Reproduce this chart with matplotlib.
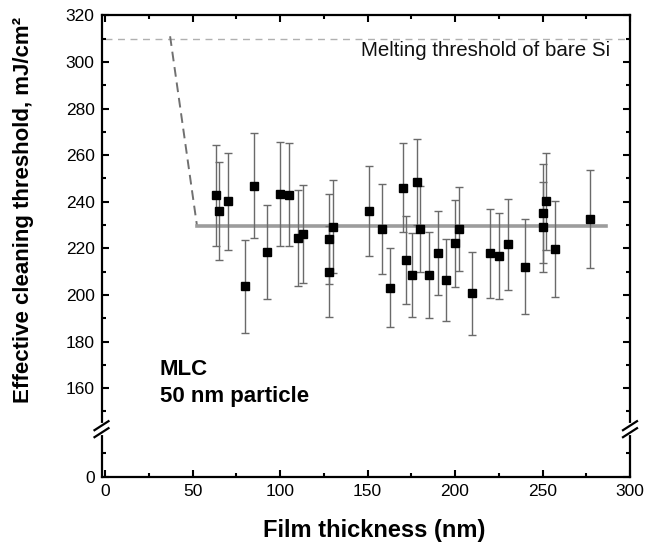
import numpy as np
import matplotlib
matplotlib.use("Agg")
import matplotlib.pyplot as plt
from matplotlib.ticker import FixedLocator, NullFormatter
import matplotlib.transforms as mtrans

plt.rcParams['font.family'] = ['Liberation Sans', 'DejaVu Sans']

# ---- data ----
thickness = [63.5, 65.4, 70.2, 80.0, 85.4, 92.5, 100.2, 105.2, 110.2, 113.4,
             128.1, 128.1, 130.2, 151.1, 158.0, 163.0, 170.2, 172.1, 175.4, 178.0,
             179.9, 185.2, 190.0, 195.0, 199.9, 202.2, 209.8, 219.8, 225.1, 230.0,
             240.0, 250.0, 250.0, 252.1, 256.9, 276.9]
threshold = [242.7, 236.2, 240.1, 203.7, 246.8, 218.4, 243.4, 243.1, 224.5, 226.3,
             224.0, 210.0, 229.3, 236.0, 228.3, 203.1, 246.1, 215.1, 208.4, 248.5,
             228.3, 208.4, 218.0, 206.4, 222.1, 228.3, 200.7, 217.8, 216.7, 221.7,
             212.2, 235.0, 229.1, 240.1, 219.7, 232.4]
errors = [21.5, 21.0, 21.0, 20.0, 22.5, 20.3, 22.3, 22.3, 20.5, 21.0,
          19.5, 19.6, 20.0, 19.5, 19.5, 17.0, 19.0, 18.8, 18.0, 18.4,
          18.5, 18.4, 17.9, 17.6, 18.5, 18.0, 17.7, 19.0, 18.3, 19.4,
          20.3, 21.3, 19.3, 21.0, 20.6, 21.0]

fit_x = [52.6, 286.4]
fit_y = [229.5, 229.5]
drop_x = [37.2, 52.6]
drop_y = [311.0, 229.5]
melt_x = [0, 298]
melt_y = [310, 310]

ymajor = [0, 160, 180, 200, 220, 240, 260, 280, 300, 320]
yminor = [10, 150, 170, 190, 210, 230, 250, 270, 290, 310]
xmajor = [0, 50, 100, 150, 200, 250, 300]
xminor = [25, 75, 125, 175, 225, 275]

# broken y scale: 0..18 and 140..320
LOW, HIGH = 18.0, 140.0
def fwd(y):
    y = np.asarray(y, dtype=float)
    return np.where(y <= LOW, y, np.where(y >= HIGH, y - (HIGH - LOW), LOW))
def inv(u):
    u = np.asarray(u, dtype=float)
    return np.where(u <= LOW, u, u + (HIGH - LOW))

fig = plt.figure(figsize=(6.51, 5.46), dpi=100)
ax = fig.add_axes([101.5/651, 69.3/546, (630-101.5)/651, (476.7-15.3)/546])
ax.set_yscale('function', functions=(fwd, inv))
ax.set_xlim(-2, 300)
ax.set_ylim(0, 320)

ax.plot(melt_x, melt_y, color='#b0b0b0', lw=1.0, dashes=(5, 4), zorder=1)
ax.plot(drop_x, drop_y, color='#707070', lw=1.4, dashes=(5, 3), zorder=1)
ax.plot(fit_x, fit_y, color='#9c9c9c', lw=2.6, zorder=2)
ax.errorbar(thickness, threshold, yerr=errors, fmt='none', ecolor='#6a6a6a',
            elinewidth=1.0, capsize=2.6, capthick=1.0, zorder=3)
ax.plot(thickness, threshold, 's', color='black', markersize=5.8, zorder=4)

ax.text(288.5, 305.0, 'Melting threshold of bare Si', ha='right', va='center',
        fontsize=14.8, color='#111111')
ax.text(31.4, 165.8, 'MLC', fontsize=16, fontweight='bold', va='baseline')
ax.text(31.4, 154.0, '50 nm particle', fontsize=16, fontweight='bold', va='baseline')

ax.yaxis.set_major_locator(FixedLocator(ymajor))
ax.yaxis.set_minor_locator(FixedLocator(yminor))
ax.set_yticklabels([str(v) for v in ymajor])
ax.yaxis.set_minor_formatter(NullFormatter())
ax.xaxis.set_major_locator(FixedLocator(xmajor))
ax.xaxis.set_minor_locator(FixedLocator(xminor))
ax.set_xticklabels([str(v) for v in xmajor])

ax.tick_params(which='both', direction='in', top=True, right=True, width=1.5,
               labelsize=12.5, pad=5)
ax.tick_params(which='major', length=5)
ax.tick_params(which='minor', length=3)
for s in ax.spines.values():
    s.set_linewidth(1.6)

ax.set_xlabel('Film thickness (nm)', fontsize=17, fontweight='bold')
ax.xaxis.set_label_coords(0.5 + 8/528.5, -0.092)
ax.set_ylabel('Effective cleaning threshold, mJ/cm²', fontsize=16, fontweight='bold')
ax.yaxis.set_label_coords(-0.127, 0.578)

# break marks on the left and right spines
yb = 0.103
base = mtrans.blended_transform_factory(ax.transAxes, ax.transAxes)
for xf in (0.0, 1.0):
    gap = plt.Line2D([xf, xf], [yb - 4/461.4, yb + 4/461.4], transform=base,
                     color='white', lw=3, clip_on=False, zorder=10)
    ax.add_line(gap)
    for dy0 in (-3.5, 3.5):
        ln = plt.Line2D([xf - 7/528.5, xf + 7/528.5],
                        [yb + (dy0 - 4.5)/461.4, yb + (dy0 + 4.5)/461.4],
                        transform=base, clip_on=False, zorder=11,
                        color='black', lw=1.6)
        ax.add_line(ln)

fig.savefig('out.png', dpi=100)
